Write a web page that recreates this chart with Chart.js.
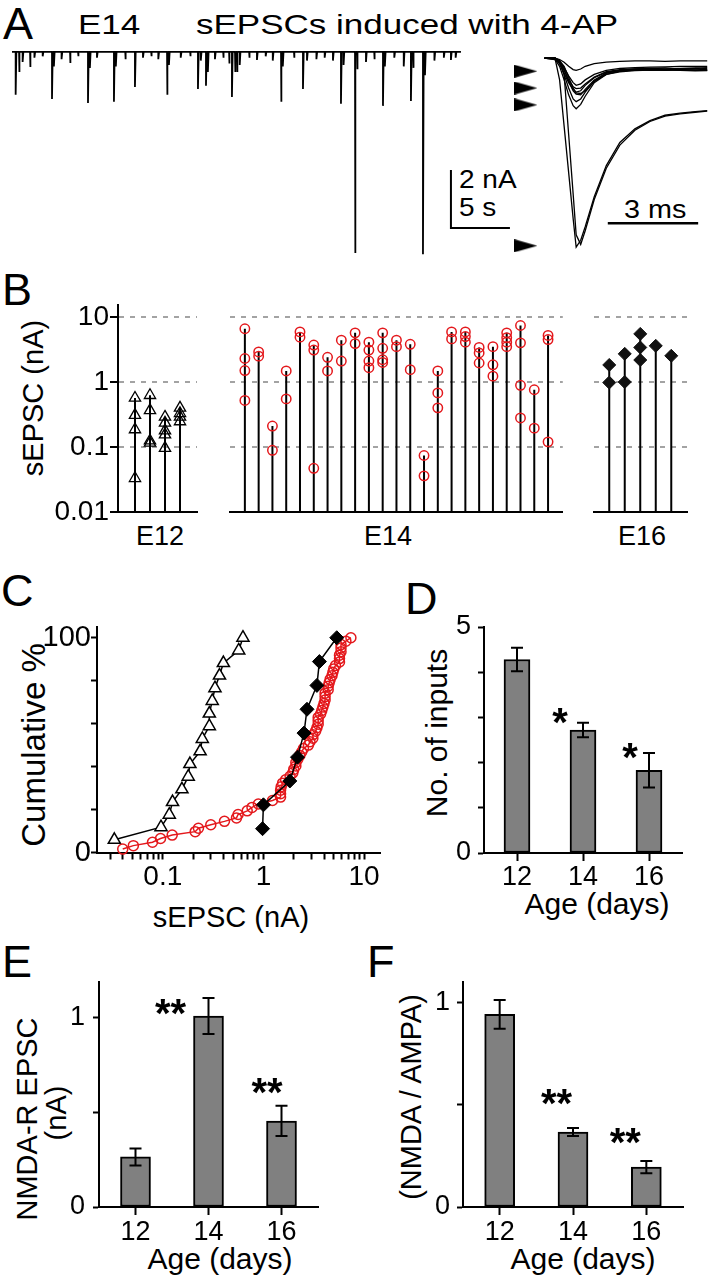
<!DOCTYPE html>
<html lang="en">
<head>
<meta charset="UTF-8">
<title>sEPSCs induced with 4-AP</title>
<script src="https://cdn.jsdelivr.net/npm/chart.js"></script>
<style>
  html, body { margin: 0; padding: 0; background: #fff; }
  body { width: 713px; height: 1280px; position: relative; overflow: hidden; font-family: 'Liberation Sans', Arial, sans-serif; }
  canvas { position: absolute; }
  .t { position: absolute; line-height: 1; white-space: nowrap; color: #000; }
  .lt { font-size: 45px; }
  .c { transform: translateX(-50%); }
  .r { transform: translate(-50%, -50%) rotate(-90deg); }
  .sx { transform-origin: left top; }
</style>
</head>
<body>
<!-- panel letters -->
<div class="t lt" style="left:3px;top:1px">A</div>
<div class="t lt" style="left:2px;top:267px">B</div>
<div class="t lt" style="left:1px;top:568px">C</div>
<div class="t lt" style="left:405px;top:576px">D</div>
<div class="t lt" style="left:2px;top:939px">E</div>
<div class="t lt" style="left:367px;top:939px">F</div>

<!-- panel A texts -->
<div class="t sx" style="left:78px;top:11px;font-size:28px;transform:scaleX(1.25)">E14</div>
<div class="t sx" style="left:196px;top:11px;font-size:28px;transform:scaleX(1.25)">sEPSCs induced with 4-AP</div>
<div class="t sx" style="left:459px;top:167px;font-size:25px;transform:scaleX(1.12)">2 nA</div>
<div class="t sx" style="left:459px;top:195px;font-size:25px;transform:scaleX(1.12)">5 s</div>
<div class="t sx" style="left:624px;top:197px;font-size:25px;transform:scaleX(1.15)">3 ms</div>

<!-- axis titles -->
<div class="t r" style="left:33px;top:398px;font-size:29px">sEPSC (nA)</div>
<div class="t c" style="left:160px;top:523px;font-size:27px">E12</div>
<div class="t c" style="left:388px;top:523px;font-size:27px">E14</div>
<div class="t c" style="left:642px;top:523px;font-size:27px">E16</div>

<div class="t r" style="left:33px;top:745px;font-size:33px">Cumulative %</div>
<div class="t c" style="left:231px;top:903px;font-size:29px">sEPSC (nA)</div>

<div class="t r" style="left:437px;top:733px;font-size:30px">No. of inputs</div>
<div class="t c" style="left:597px;top:889px;font-size:30px">Age (days)</div>

<div class="t r" style="left:27px;top:1119px;font-size:29px">NMDA-R EPSC</div>
<div class="t r" style="left:56px;top:1113px;font-size:29px">(nA)</div>
<div class="t c" style="left:220px;top:1244px;font-size:30px">Age (days)</div>

<div class="t r" style="left:411px;top:1097px;font-size:29px">(NMDA / AMPA)</div>
<div class="t c" style="left:583px;top:1244px;font-size:30px">Age (days)</div>

<canvas id="aMain"></canvas>
<canvas id="aInset"></canvas>
<canvas id="b12"></canvas>
<canvas id="b14"></canvas>
<canvas id="b16"></canvas>
<canvas id="cCum"></canvas>
<canvas id="dBar"></canvas>
<canvas id="eBar"></canvas>
<canvas id="fBar"></canvas>

<script>
// ---------- data ----------
// A: continuous trace, event times (s) and peak amplitudes (nA)
const evTime = [0.31, 0.6, 1.53, 3.39, 4.92, 6.44, 8.64, 10.42, 13.14, 15.76, 16.44, 16.6, 18.64, 18.9, 19.07, 20.76, 22.8, 24.66, 27.88, 29.07, 31.44, 33.81, 34.83, 37.2];
const evAmp = [-1.48, -0.69, -0.52, -1.62, -0.38, -1.76, -1.72, -1.21, -1.48, -1.28, -1.17, -0.69, -1.55, -0.69, -0.69, -0.28, -1.72, -1.28, -1.79, -6.93, -1.86, -1.69, -6.97, -0.28];
const noiseTime = [0.9, 1.9, 2.6, 3.55, 4.2, 5.6, 6.6, 7.2, 8.8, 9.6, 11.1, 11.8, 12.4, 13.3, 14.3, 15.1, 16.0, 17.2, 17.9, 18.4, 19.3, 20.1, 21.5, 22.1, 22.95, 23.9, 25.0, 25.8, 26.5, 27.2, 28.1, 29.25, 30.0, 30.7, 31.6, 32.4, 33.2, 34.0, 35.0, 35.8, 36.6, 37.6];
const noiseAmp = [-0.35, -0.2, -0.15, -0.5, -0.25, -0.15, -0.55, -0.2, -0.5, -0.25, -0.2, -0.15, -0.25, -0.45, -0.2, -0.15, -0.3, -0.25, -0.2, -0.4, -0.45, -0.2, -0.15, -0.3, -0.5, -0.2, -0.3, -0.25, -0.2, -0.3, -0.45, -0.6, -0.35, -0.25, -0.5, -0.2, -0.5, -0.55, -0.8, -0.3, -0.2, -0.2];
const traceEnd = 38.05;
const barSec = [37.2, 42.2];   // 5 s
const barNa = [-4.07, -6.07];  // 2 nA

// A inset: superimposed sEPSCs (time ms, current nA)
const tIn = [0, 0.35, 0.5, 0.65, 0.8, 0.95, 1.05, 1.2, 1.35, 1.65, 2.05, 2.5, 3.0, 3.5, 4.0, 4.5, 5.0, 5.4];
const insetBig1 = [0, -0.02, -0.8, -2.5, -4.2, -5.9, -6.95, -6.7, -6.2, -5.1, -3.95, -3.1, -2.6, -2.3, -2.1, -2.02, -1.97, -1.93];
const insetBig2 = [0, 0, -0.1, -0.6, -2.8, -5.0, -6.5, -6.85, -6.35, -5.2, -4.05, -3.2, -2.65, -2.33, -2.13, -2.05, -1.99, -1.95];
const insetSmall = [
  [0, 0, -0.05, -0.15, -0.3, -0.42, -0.45, -0.4, -0.3, -0.2, -0.15, -0.12, -0.1, -0.1, -0.12, -0.1, -0.1, -0.1],
  [0, 0, -0.1, -0.35, -0.65, -0.9, -1.0, -0.95, -0.8, -0.6, -0.45, -0.38, -0.35, -0.33, -0.32, -0.3, -0.3, -0.3],
  [0, 0, -0.15, -0.45, -0.8, -1.05, -1.12, -1.1, -0.95, -0.7, -0.5, -0.42, -0.4, -0.38, -0.36, -0.4, -0.38, -0.35],
  [0, -0.05, -0.2, -0.55, -0.9, -1.15, -1.25, -1.2, -1.0, -0.72, -0.52, -0.45, -0.42, -0.45, -0.44, -0.42, -0.45, -0.44],
  [0, 0, -0.1, -0.4, -0.85, -1.2, -1.32, -1.35, -1.15, -0.8, -0.55, -0.45, -0.4, -0.38, -0.4, -0.38, -0.36, -0.38],
  [0, 0, -0.2, -0.6, -1.1, -1.5, -1.6, -1.5, -1.25, -0.85, -0.55, -0.45, -0.42, -0.4, -0.42, -0.4, -0.4, -0.42],
  [0, -0.05, -0.3, -0.8, -1.35, -1.75, -1.86, -1.7, -1.4, -0.9, -0.6, -0.48, -0.44, -0.42, -0.45, -0.43, -0.44, -0.45],
  [0, 0, -0.1, -0.3, -0.7, -1.1, -1.28, -1.3, -1.2, -0.85, -0.6, -0.5, -0.46, -0.44, -0.43, -0.45, -0.47, -0.46]
];
const arrowAmp = [-0.48, -1.1, -1.72, -6.9];
const arrowAt = -0.62;
const barMs = [2.1, 5.1];      // 3 ms
const barMsLevel = -6.07;

// B: sEPSC amplitudes (nA) per cell
const bTicks = [0.01, 0.1, 1, 10];
const bTickLabels = ['0.01', '0.1', '1', '10'];
const e12Stems = [[0.568, 0.31, 0.186, 0.033], [0.626, 0.366, 0.125, 0.116], [0.29, 0.235, 0.179, 0.155, 0.096], [0.40, 0.33, 0.29, 0.247]];
const e14Stems = [
  [6.6, 2.3, 1.5, 0.52], [2.9, 2.5], [0.21, 0.089], [1.48, 0.55], [5.9, 4.9], [3.7, 3.1, 0.047],
  [2.4, 1.48], [4.4, 2.1], [5.7, 3.9], [4.1, 3.1, 2.1, 1.66], [5.7, 3.3, 2.2, 2.0], [4.4, 3.5],
  [3.8, 1.55], [0.074, 0.036], [1.48, 0.68, 0.40], [5.9, 4.6], [5.9, 5.0, 4.1], [3.4, 2.8, 1.96],
  [3.5, 1.84, 1.23], [5.7, 4.8, 4.1, 3.5], [7.4, 4.0, 0.89, 0.28], [0.76, 0.195], [5.2, 4.5, 0.12]
];
const e16Stems = [[1.83, 0.98], [2.71, 1.0], [5.5, 3.4, 2.18], [3.6], [2.53]];

// C: cumulative distributions
const c12X = [0.033, 0.096, 0.116, 0.125, 0.155, 0.179, 0.186, 0.235, 0.247, 0.29, 0.29, 0.31, 0.33, 0.366, 0.40, 0.568, 0.626];
const c12Y = [5.9, 11.8, 17.6, 23.5, 29.4, 35.3, 41.2, 47.1, 52.9, 58.8, 64.7, 70.6, 76.5, 82.4, 88.2, 94.1, 100];
const c14X = [0.040, 0.051, 0.079, 0.095, 0.124, 0.21, 0.226, 0.30, 0.41, 0.54, 0.56, 0.69, 0.77, 0.89, 1.23, 1.48, 1.48, 1.48, 1.5, 1.55, 1.66, 1.84, 1.96, 2.0, 2.1, 2.1, 2.2, 2.3, 2.4, 2.5, 2.8, 2.9, 3.1, 3.1, 3.3, 3.4, 3.5, 3.5, 3.5, 3.7, 3.8, 3.9, 4.0, 4.1, 4.1, 4.1, 4.4, 4.4, 4.5, 4.6, 4.8, 4.9, 5.0, 5.2, 5.7, 5.7, 5.7, 5.9, 5.9, 5.9, 6.6, 7.4];
const c14Y = [1.6, 3.2, 4.8, 6.5, 8.1, 9.7, 11.3, 12.9, 14.5, 16.1, 17.7, 19.4, 21.0, 22.6, 24.2, 25.8, 27.4, 29.0, 30.6, 32.3, 33.9, 35.5, 37.1, 38.7, 40.3, 41.9, 43.5, 45.2, 46.8, 48.4, 50.0, 51.6, 53.2, 54.8, 56.5, 58.1, 59.7, 61.3, 62.9, 64.5, 66.1, 67.7, 69.4, 71.0, 72.6, 74.2, 75.8, 77.4, 79.0, 80.6, 82.3, 83.9, 85.5, 87.1, 88.7, 90.3, 91.9, 93.5, 95.2, 96.8, 98.4, 100];
const c16X = [0.98, 1.0, 1.83, 2.18, 2.53, 2.71, 3.4, 3.6, 5.35];
const c16Y = [11.1, 22.2, 33.3, 44.4, 55.6, 66.7, 77.8, 88.9, 100];
const cYTicks = [0, 20, 40, 60, 80, 100];
const cYLabels = ['0', '', '', '', '', '100'];
const cXMajor = [0.1, 1, 10];
const cXMajorLabels = ['0.1', '1', '10'];
const cXMinor = [0.03, 0.04, 0.05, 0.06, 0.07, 0.08, 0.09, 0.2, 0.3, 0.4, 0.5, 0.6, 0.7, 0.8, 0.9, 2, 3, 4, 5, 6, 7, 8, 9];

// D, E, F: bar charts (mean, SEM)
const ages = ['12', '14', '16'];
const dMean = [4.28, 2.72, 1.83];
const dErr = [0.26, 0.16, 0.38];
const dSig = ['', '*', '*'];
const dTicks = [0, 1, 2, 3, 4, 5];
const dTickLabels = ['0', '', '', '', '', '5'];
const eMean = [0.265, 1.01, 0.455];
const eErr = [0.045, 0.095, 0.08];
const eSig = ['', '**', '**'];
const fMean = [0.94, 0.366, 0.195];
const fErr = [0.07, 0.02, 0.03];
const fSig = ['', '**', '**'];
const halfTicks = [0, 0.5, 1];
const halfTickLabels = ['0', '', '1'];

// ---------- helpers ----------
const FONT = "'Liberation Sans', Arial, Helvetica, sans-serif";
const RED = '#e4181c';
Chart.defaults.font.family = FONT;
Chart.defaults.color = '#000';

function mk(id, box) {
  const c = document.getElementById(id);
  c.width = box.w; c.height = box.h;
  c.style.left = box.x + 'px'; c.style.top = box.y + 'px';
  return c;
}
// canvas box + wanted plot area -> padding and axis sizes
function frame(box, area) {
  return {
    padding: { left: 0, top: area.t - box.y, right: box.x + box.w - area.r, bottom: 0 },
    yw: area.l - box.x,
    xh: box.y + box.h - area.b
  };
}
function base(pad) {
  return {
    responsive: false, animation: false, events: [],
    layout: { padding: pad || 0 },
    plugins: { legend: { display: false }, tooltip: { enabled: false } }
  };
}
const zip = (xs, ys) => xs.map((x, i) => ({ x: x, y: ys[i] }));
const blackBorder = { display: true, color: '#000', width: 2 };

// ---------- A: main trace ----------
const evAll = evTime.map((t, i) => [t, evAmp[i]])
  .concat(noiseTime.map((t, i) => [t, noiseAmp[i]]))
  .sort((a, b) => a[0] - b[0]);
const tracePts = [{ x: 0, y: 0 }];
evAll.forEach(([t, a]) => { tracePts.push({ x: t, y: 0 }, { x: t, y: a }, { x: t + 0.06, y: 0 }); });
tracePts.push({ x: traceEnd, y: 0 });

new Chart(mk('aMain', { x: 12, y: 40, w: 503, h: 222 }), {
  type: 'scatter',
  data: { datasets: [
    { data: tracePts, showLine: true, borderColor: '#000', borderWidth: 1.8, pointRadius: 0, borderJoinStyle: 'bevel', clip: false },
    { data: [{ x: barSec[0], y: barNa[0] }, { x: barSec[0], y: barNa[1] }, { x: barSec[1], y: barNa[1] }],
      showLine: true, borderColor: '#000', borderWidth: 2, pointRadius: 0, clip: false }
  ]},
  options: Object.assign(base(), {
    scales: { x: { type: 'linear', display: false, min: 0, max: 42.63 }, y: { display: false, min: -7.24, max: 0.41 } }
  })
});

// ---------- A: inset ----------
const arrowImg = document.createElement('canvas');
arrowImg.width = 23; arrowImg.height = 13;
(function () {
  const g = arrowImg.getContext('2d');
  g.fillStyle = '#000'; g.beginPath(); g.moveTo(0, 0); g.lineTo(23, 6.5); g.lineTo(0, 13); g.closePath(); g.fill();
})();
const insetSets = [insetBig1, insetBig2].concat(insetSmall).map(arr => ({
  data: zip(tIn, arr), showLine: true, borderColor: '#000', borderWidth: 1.3, pointRadius: 0, clip: false
}));
insetSets.push({ data: arrowAmp.map(a => ({ x: arrowAt, y: a })), showLine: false, pointStyle: arrowImg, pointRadius: 6 });
insetSets.push({ data: [{ x: barMs[0], y: barMsLevel }, { x: barMs[1], y: barMsLevel }], showLine: true, borderColor: '#000', borderWidth: 2.5, pointRadius: 0 });
new Chart(mk('aInset', { x: 505, y: 40, w: 208, h: 222 }), {
  type: 'scatter',
  data: { datasets: insetSets },
  options: Object.assign(base(), {
    scales: { x: { type: 'linear', display: false, min: -1.08, max: 5.36 }, y: { display: false, min: -7.24, max: 0.41 } }
  })
});

// ---------- B: stem plots ----------
const bMin = 0.01, bMax = 15.3;
function stemChart(id, box, area, stems, xr, marker, showY) {
  const f = frame(box, area);
  const stemPts = [], markPts = [];
  stems.forEach((vals, i) => {
    stemPts.push({ x: i + 1, y: bMin }, { x: i + 1, y: Math.max(...vals) }, { x: i + 1, y: null });
    vals.forEach(v => markPts.push({ x: i + 1, y: v }));
  });
  new Chart(mk(id, box), {
    type: 'scatter',
    data: { datasets: [
      Object.assign({ data: markPts, showLine: false, clip: false }, marker),
      { data: stemPts, showLine: true, spanGaps: false, borderColor: '#000', borderWidth: 2, pointRadius: 0, clip: false }
    ]},
    options: Object.assign(base(f.padding), {
      scales: {
        x: { type: 'linear', min: xr[0], max: xr[1], ticks: { display: false }, grid: { display: false },
             border: blackBorder, afterFit: s => { s.height = f.xh; } },
        y: { type: 'logarithmic', min: bMin, max: bMax,
             afterBuildTicks: s => { s.ticks = bTicks.map(v => ({ value: v })); },
             ticks: { display: showY, font: { size: 28, lineHeight: 1 }, padding: 1, callback: (v, i) => bTickLabels[i] },
             grid: { color: c => (c.tick && c.tick.value === bMin) ? 'rgba(0,0,0,0)' : '#a3a3a3', lineWidth: 2,
                     drawTicks: showY, tickLength: 8, tickColor: '#000', tickWidth: 2 },
             border: { display: showY, color: '#000', width: 2, dash: [5, 6] },
             afterFit: s => { s.width = f.yw; } }
      }
    })
  });
}
stemChart('b12', { x: 40, y: 280, w: 170, h: 250 }, { l: 118, t: 305, r: 197, b: 512 }, e12Stems, [-0.133, 5.133],
  { pointStyle: 'triangle', pointRadius: 6.5, pointBorderColor: '#000', pointBorderWidth: 1.3, pointBackgroundColor: 'rgba(0,0,0,0)' }, true);
stemChart('b14', { x: 224, y: 280, w: 345, h: 250 }, { l: 224, t: 305, r: 564, b: 512 }, e14Stems, [-0.0646, 24.07],
  { pointStyle: 'circle', pointRadius: 4.7, pointBorderColor: RED, pointBorderWidth: 1.5, pointBackgroundColor: 'rgba(0,0,0,0)' }, false);
stemChart('b16', { x: 586, y: 280, w: 110, h: 250 }, { l: 586, t: 305, r: 687, b: 512 }, e16Stems, [-0.015, 6.015],
  { pointStyle: 'rectRot', pointRadius: 6.5, pointBorderColor: '#111', pointBorderWidth: 1, pointBackgroundColor: '#111' }, false);

// ---------- C: cumulative ----------
(function () {
  const box = { x: 30, y: 600, w: 370, h: 295 };
  const f = frame(box, { l: 97, t: 627, r: 380, b: 852.5 });
  const xTicks = cXMinor.concat(cXMajor).sort((a, b) => a - b);
  new Chart(mk('cCum', box), {
    type: 'scatter',
    data: { datasets: [
      { data: zip(c16X, c16Y), showLine: true, borderColor: '#000', borderWidth: 1.5, pointStyle: 'rectRot', pointRadius: 7,
        pointBackgroundColor: '#000', pointBorderColor: '#000', pointBorderWidth: 1, clip: false },
      { data: zip(c14X, c14Y), showLine: true, borderColor: RED, borderWidth: 1.5, pointStyle: 'circle', pointRadius: 5,
        pointBackgroundColor: 'rgba(0,0,0,0)', pointBorderColor: RED, pointBorderWidth: 1.5, clip: false },
      { data: zip(c12X, c12Y), showLine: true, borderColor: '#000', borderWidth: 1.5, pointStyle: 'triangle', pointRadius: 7,
        pointBackgroundColor: '#fff', pointBorderColor: '#000', pointBorderWidth: 1.5, clip: false }
    ]},
    options: Object.assign(base(f.padding), {
      scales: {
        x: { type: 'logarithmic', min: 0.0222, max: 14.4,
             afterBuildTicks: s => { s.ticks = xTicks.map(v => ({ value: v })); },
             ticks: { font: { size: 28, lineHeight: 1 }, padding: 4, autoSkip: false, maxRotation: 0,
                      callback: v => { const k = cXMajor.indexOf(v); return k >= 0 ? cXMajorLabels[k] : ''; } },
             grid: { drawOnChartArea: false, tickLength: 7, tickWidth: 2, tickColor: '#000' },
             border: blackBorder, afterFit: s => { s.height = f.xh; } },
        y: { min: 0, max: 105,
             afterBuildTicks: s => { s.ticks = cYTicks.map(v => ({ value: v })); },
             ticks: { font: { size: 29, lineHeight: 1 }, padding: 0, callback: (v, i) => cYLabels[i] },
             grid: { drawOnChartArea: false, tickLength: 6, tickWidth: 2, tickColor: '#000' },
             border: blackBorder, afterFit: s => { s.width = f.yw; } }
      }
    })
  });
})();

// ---------- D, E, F: bars with SEM ----------
const errPlugin = {
  id: 'errbars',
  afterDatasetsDraw(chart, args, o) {
    const ctx = chart.ctx, ys = chart.scales.y;
    const vals = chart.data.datasets[0].data;
    ctx.save();
    ctx.strokeStyle = '#000'; ctx.lineWidth = 2;
    chart.getDatasetMeta(0).data.forEach((bar, i) => {
      const hi = ys.getPixelForValue(vals[i] + o.err[i]);
      const lo = ys.getPixelForValue(vals[i] - o.err[i]);
      ctx.beginPath();
      ctx.moveTo(bar.x, hi); ctx.lineTo(bar.x, lo);
      ctx.moveTo(bar.x - o.cap, hi); ctx.lineTo(bar.x + o.cap, hi);
      ctx.moveTo(bar.x - o.cap, lo); ctx.lineTo(bar.x + o.cap, lo);
      ctx.stroke();
      if (o.sig[i]) {
        ctx.font = 'bold ' + o.size + 'px ' + FONT;
        ctx.fillStyle = '#000'; ctx.textAlign = 'center'; ctx.textBaseline = 'alphabetic';
        ctx.fillText(o.sig[i], bar.x + o.dx[i], hi + o.dy[i] + 0.56 * o.size);
      }
    });
    ctx.restore();
  }
};
function barChart(id, box, area, mean, err, sig, yMax, yTicks, yLabels, thick, ypad, xpad, dx, dy) {
  const f = frame(box, area);
  new Chart(mk(id, box), {
    type: 'bar',
    data: { labels: ages, datasets: [{ data: mean, backgroundColor: '#808080', borderColor: '#000', borderWidth: 2,
            borderSkipped: false, barThickness: thick }] },
    plugins: [errPlugin],
    options: Object.assign(base(f.padding), {
      plugins: { legend: { display: false }, tooltip: { enabled: false },
                 errbars: { err: err, sig: sig, cap: 6, size: 40, dx: dx, dy: dy } },
      scales: {
        x: { ticks: { font: { size: 27, lineHeight: 1 }, padding: xpad },
             grid: { offset: false, drawOnChartArea: false, tickLength: 8, tickWidth: 2, tickColor: '#000' },
             border: blackBorder, afterFit: s => { s.height = f.xh; } },
        y: { min: 0, max: yMax,
             afterBuildTicks: s => { s.ticks = yTicks.map(v => ({ value: v })); },
             ticks: { font: { size: 27, lineHeight: 1 }, padding: ypad, callback: (v, i) => yLabels[i] },
             grid: { drawOnChartArea: false, tickLength: 6, tickWidth: 2, tickColor: '#000' },
             border: blackBorder, afterFit: s => { s.width = f.yw; } }
      }
    })
  });
}
barChart('dBar', { x: 440, y: 600, w: 270, h: 300 }, { l: 484, t: 627, r: 682, b: 853 }, dMean, dErr, dSig, 5, dTicks, dTickLabels,
  26, 7, 3.5, [0, -23, -19], [0, -9, -4.5]);
barChart('eBar', { x: 60, y: 955, w: 280, h: 295 }, { l: 99, t: 982, r: 318, b: 1207 }, eMean, eErr, eSig, 1.19, halfTicks, halfTickLabels,
  30, 8, 4.5, [0, -38, -14.5], [0, 7, -22]);
barChart('fBar', { x: 420, y: 955, w: 285, h: 295 }, { l: 463, t: 982, r: 683, b: 1207 }, fMean, fErr, fSig, 1.098, halfTicks, halfTickLabels,
  30, 7, 4.5, [0, -16.5, -21], [0, -33.5, -27]);
</script>
</body>
</html>
